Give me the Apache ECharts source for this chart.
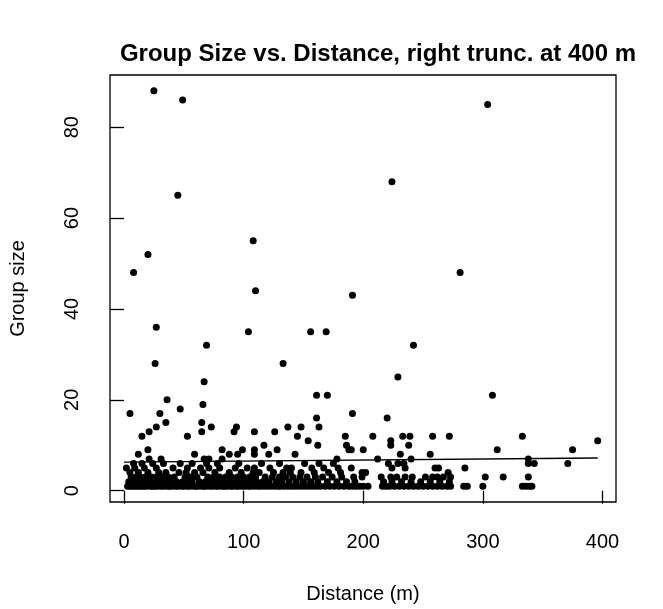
<!DOCTYPE html>
<html>
<head>
<meta charset="utf-8">
<script src="https://cdn.jsdelivr.net/npm/echarts@6/dist/echarts.min.js"></script>
<style>html,body{margin:0;padding:0;background:#fff}#c{width:663px;height:609px}</style>
</head>
<body>
<div id="c"></div>
<script>
// Scattered (larger) groups: distance (m) and group size
const distance = [25,49,304,224,45,108,20,8,281,110,191,27,104,156,169,69,242,26,133,229,67,36,161,170,308,
  5,47,30,66,35,27,21,15,53,65,65,73,94,92,109,126,137,148,145,154,161,163,162,191,185,186,190,178,
  220,208,233,239,258,272,223,223,238,333,396,312,375,200,231,256,212,240,229,221,234,338,338,343,371,224,235,260,263,285,202,199,271,
  12,20,31,21,59,67,71,82,82,88,95,99,109,109,117,121,128,143,140,109,188];
const groupSize = [88,86,85,68,65,55,52,48,48,44,43,36,35,35,35,32,32,28,28,25,24,20,21,21,21,
  17,18,17,19,15,14,13,12,12,15,13,14,14,13,13,13,14,14,12,11,16,14,10,17,12,10,9,7,
  16,12,12,12,12,12,11,10,10,12,11,9,9,9,8,8,7,7,6,6,6,7,6,6,6,5,5,5,5,5,4,4,4,
  8,9,7,7,8,7,7,9,7,8,8,9,9,8,10,8,9,8,5,5,9];
// Small groups: distances of sightings with group size 1..6
const size1 = [3,5,7,9,11,13,15,17,19,22,24,26,28,31,33,36,38,40,43,45,48,50,53,55,58,60,62,65,67,69,72,74,77,79,82,84,86,89,91,94,96,99,101,104,106,109,112,114,117,120,123,126,129,131,134,137,140,143,146,149,152,155,158,161,164,168,172,176,180,184,188,191,194,197,200,204,216,219,222,226,230,234,238,242,246,250,254,258,262,266,270,273,284,287,300,333,336,339,341];
const size2 = [4,8,12,16,21,25,30,34,39,44,49,54,57,63,68,73,78,83,87,92,97,102,107,111,116,121,127,132,138,144,150,156,162,170,178,186,193,217,224,232,240,248,256,264,272];
const size3 = [6,10,14,18,23,27,32,37,42,51,56,61,70,75,80,85,90,95,100,105,110,118,124,130,135,141,147,153,160,166,174,182,192,199,215,223,228,235,241,252,258,262,267,273,302,317,338];
const size4 = [5,12,20,29,35,46,52,59,66,76,88,98,108,113,125,133,139,148,159,171,181];
const size5 = [2,9,17,27,41,53,64,71,80,93,103,122,136,157,167,179,190];
const size6 = [8,15,24,33,47,57,69,78,96,115,130,151,163,175];
// Fitted line
const fitX = [0, 396];
const fitY = [6.3, 7.2];
const xTicks = [0,100,200,300,400];
const yTicks = [0,20,40,60,80];

const pts = distance.map((d,i)=>[d, groupSize[i]]);
[size1,size2,size3,size4,size5,size6].forEach((arr,k)=>arr.forEach(d=>pts.push([d,k+1])));
const fit = fitX.map((x,i)=>[x, fitY[i]]);

const FONT = 'Liberation Sans, Arial, Helvetica, sans-serif';
const chart = echarts.init(document.getElementById('c'), null, {renderer:'canvas'});
chart.setOption({
  animation:false,
  backgroundColor:'#ffffff',
  title:{text:'Group Size vs. Distance, right trunc. at 400 m', left:373, top:37, textAlign:'center',
    textStyle:{fontFamily:FONT, fontWeight:'bold', fontSize:24, color:'#000'}},
  grid:{left:108, right:47, top:75, bottom:107, show:true, borderColor:'#000', borderWidth:1.3, backgroundColor:'transparent'},
  xAxis:{type:'value', min:-11.7, max:411.3,
    name:'Distance (m)', nameLocation:'middle', nameGap:82,
    nameTextStyle:{fontFamily:FONT, fontSize:20, color:'#000'},
    axisLine:{show:false}, splitLine:{show:false},
    axisTick:{show:true, inside:false, length:13, lineStyle:{color:'#000', width:1.3}, customValues:xTicks},
    axisLabel:{fontFamily:FONT, fontSize:20, color:'#000', margin:30, customValues:xTicks}},
  yAxis:{type:'value', min:-2.48, max:91.48,
    name:'Group size', nameLocation:'middle', nameGap:82, nameRotate:90,
    nameTextStyle:{fontFamily:FONT, fontSize:20, color:'#000'},
    axisLine:{show:false}, splitLine:{show:false},
    axisTick:{show:true, inside:false, length:14, lineStyle:{color:'#000', width:1.3}, customValues:yTicks},
    axisLabel:{fontFamily:FONT, fontSize:20, color:'#000', margin:28, rotate:90, customValues:yTicks}},
  series:[
    {type:'scatter', data:pts, symbol:'circle', symbolSize:7, itemStyle:{color:'#000', opacity:1}},
    {type:'line', data:fit, symbol:'none', lineStyle:{color:'#000', width:1.3}, z:3}
  ]
});
</script>
</body>
</html>
